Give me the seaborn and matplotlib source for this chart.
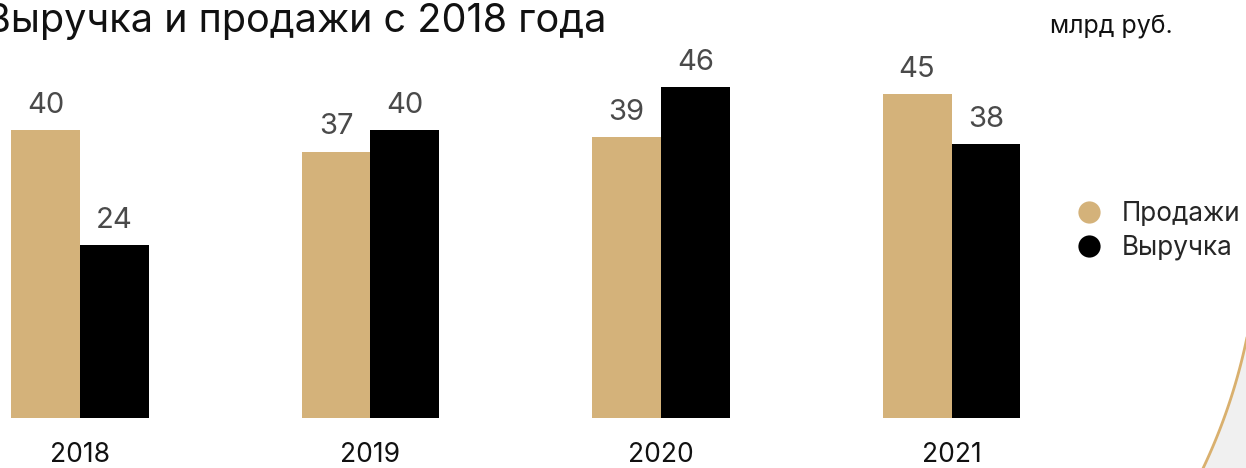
import numpy as np
import pandas as pd
import matplotlib
matplotlib.use("Agg")
import matplotlib.pyplot as plt
from matplotlib.lines import Line2D
from matplotlib.patches import Polygon
import seaborn as sns

years = ["2018", "2019", "2020", "2021"]
sales = [40, 37, 39, 45]      # Продажи
revenue = [24, 40, 46, 38]    # Выручка
series = ["Продажи", "Выручка"]
colors = ["#D4B27A", "#000000"]

df = pd.DataFrame({
    "year": years * 2,
    "value": sales + revenue,
    "series": [series[0]] * 4 + [series[1]] * 4,
})

sns.set_style("white")
plt.rcParams["font.family"] = ["Inter", "DejaVu Sans"]

W, H = 1246, 468
fig = plt.figure(figsize=(W / 100, H / 100), dpi=100)

# axes geometry in pixels
base_y = 418
px_per_unit = 7.2
first_center = 80
spacing = 290.5
ax = fig.add_axes([0, (H - base_y) / H, 1, base_y / H])

sns.barplot(data=df, x="year", y="value", hue="series", palette=colors,
            width=0.475, saturation=1, ax=ax, legend=False, linewidth=0)

ax.set_xlim(-first_center / spacing, (W - first_center) / spacing)
ax.set_ylim(0, base_y / px_per_unit)
for s in ax.spines.values():
    s.set_visible(False)
ax.set_yticks([])
ax.set_xlabel("")
ax.set_ylabel("")
ax.tick_params(axis="x", length=0, pad=17, labelsize=19, labelcolor="#111111")

for cont in ax.containers:
    ax.bar_label(cont, fmt="%d", padding=8, fontsize=21, color="#4a4a4a")

fig.text(-0.012, 1 - 22 / H, "Выручка и продажи с 2018 года", fontsize=28.5,
         ha="left", va="center", color="#111111")
fig.text(1111 / W, 1 - 27 / H, "млрд руб.", fontsize=18, ha="center",
         va="center", color="#111111")

handles = [Line2D([], [], marker="o", linestyle="", markersize=16,
                  markerfacecolor=c, markeredgewidth=0) for c in colors]
fig.legend(handles, series, loc="center left",
           bbox_to_anchor=(1050 / W, 1 - 231 / H), frameon=False,
           fontsize=18.8, handletextpad=0.65, labelspacing=0.3,
           handlelength=1.2)

# decorative arc in the bottom-right corner
cx, cy, r = 680, 220, 579
t = np.linspace(-0.2, 0.9, 200)
xs = cx + r * np.cos(t)
ys = cy + r * np.sin(t)
keep = (xs <= W + 5) & (ys <= H + 5)
xs, ys = xs[keep], ys[keep]
pts = np.column_stack([xs / W, 1 - ys / H])
fill = np.vstack([pts, [[1.01, -0.01], [1.01, 1 - ys.min() / H]]])
fig.patches.append(Polygon(fill, closed=True, transform=fig.transFigure,
                           facecolor="#f0f0f0", edgecolor="none", zorder=0))
fig.lines.append(Line2D(pts[:, 0], pts[:, 1], transform=fig.transFigure,
                        color="#D9B06E", lw=2))

fig.savefig("out.png", dpi=100)
